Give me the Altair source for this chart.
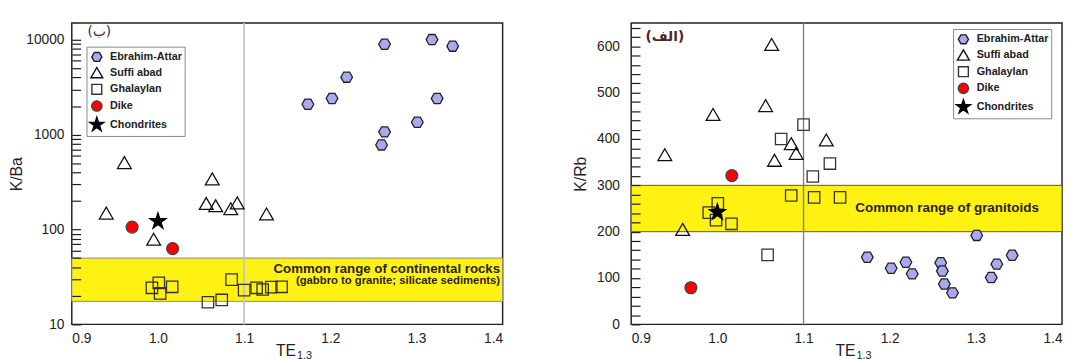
import altair as alt
import pandas as pd

# ---------------- data ----------------
groups = ["Ebrahim-Attar", "Suffi abad", "Ghalaylan", "Dike", "Chondrites"]

# left panel: K/Ba vs TE1,3
ba_ea_te = [1.174, 1.202, 1.219, 1.263, 1.318, 1.342, 1.324, 1.301, 1.263, 1.2595]
ba_ea_val = [2090, 2410, 4040, 8980, 10050, 8570, 2410, 1350, 1070, 780]
ba_sa_te = [0.961, 1.063, 0.940, 1.056, 1.067, 1.0845, 1.092, 1.126, 0.995]
ba_sa_val = [508, 342, 149, 188, 178, 166, 191, 146, 79]
ba_gh_te = [0.993, 1.001, 1.0025, 1.0165, 1.058, 1.074, 1.0855, 1.100, 1.1145, 1.1215, 1.1315, 1.1435]
ba_gh_val = [24.3, 27.4, 21.2, 24.9, 17.1, 18.1, 29.6, 23.0, 24.3, 23.3, 24.7, 24.9]
ba_dike_te = [0.970, 1.017]
ba_dike_val = [106, 63]
ba_ch_te = [1.0]
ba_ch_val = [122]

# right panel: K/Rb vs TE1,3
rb_ea_te = [1.174, 1.2017, 1.2188, 1.2261, 1.2592, 1.2611, 1.2634, 1.2729, 1.301, 1.3178, 1.3243, 1.3421]
rb_ea_val = [145, 121, 134, 109, 133, 115, 87, 68, 192, 101, 130, 149]
rb_sa_te = [1.063, 0.995, 1.056, 0.939, 1.0857, 1.0914, 1.0663, 1.1264, 0.9597]
rb_sa_val = [604, 453, 472, 366, 390, 369, 354, 398, 205]
rb_gh_te = [1.100, 1.074, 1.1306, 1.1108, 1.0857, 1.1123, 1.1424, 1.0005, 0.990, 0.9985, 1.0164, 1.0583]
rb_gh_val = [431, 400, 347, 319, 278, 274, 274, 261, 241, 225, 217, 150]
rb_dike_te = [1.0168, 0.9693]
rb_dike_val = [321, 79]
rb_ch_te = [1.0]
rb_ch_val = [242]

# ranges / bands / ticks
x_min, x_max = 0.9, 1.4
x_ticks = [0.9, 1.0, 1.1, 1.2, 1.3, 1.4]
x_line = [1.1]

ba_domain = [10, 15000]
ba_labels = [10, 100, 1000, 10000]
ba_minor = [m * d for d in [10, 100, 1000] for m in range(2, 10)]
ba_band = [17.5, 50]

rb_domain = [0, 650]
rb_labels = [0, 100, 200, 300, 400, 500, 600]
rb_minor = [v for v in range(20, 650, 20) if v % 100 != 0]
rb_band = [200, 300]

ba_text_lines = ["Common range of continental rocks", "(gabbro to granite; silicate sediments)"]
ba_text_x = [1.397, 1.397]
ba_text_y = [38.5, 28.6]
rb_text = ["Common range of granitoids"]
rb_text_x = [1.16]
rb_text_y = [250]

W, H = 439, 307
TICK = 9

# marker outlines (unit box -1..1, all drawn at one symbol size)
HEX = "M0.69,0L0.345,0.6L-0.345,0.6L-0.69,0L-0.345,-0.6L0.345,-0.6Z"
TRI = "M0,-0.7L0.81,0.7L-0.81,0.7Z"
SQR = "M-0.67,-0.67L0.67,-0.67L0.67,0.67L-0.67,0.67Z"
CIR = "M-0.7,0A0.7,0.7 0 1,0 0.7,0A0.7,0.7 0 1,0 -0.7,0Z"
STAR = ("M0,-1L0.2245,-0.309L0.951,-0.309L0.363,0.118L0.588,0.809L0,0.382"
        "L-0.588,0.809L-0.363,0.118L-0.951,-0.309L-0.2245,-0.309Z")
shapes = [HEX, TRI, SQR, CIR, STAR]
fills = ["#a9a9ef", "transparent", "transparent", "#ff0000", "#000000"]
strokes = ["#222222", "#111111", "#333333", "#444444", "#000000"]


def make_df(parts):
    rows = []
    for g, xs, ys in parts:
        for a, b in zip(xs, ys):
            rows.append({"group": g, "te": a, "val": b})
    return pd.DataFrame(rows)


def panel(df, yscale, yaxis, band, band_stroke, vline_color, vline_w,
          texts, legend_xy, plabel, plabel_xy, plabel_weight):
    xscale = alt.Scale(domain=[x_min, x_max], nice=False, zero=False)
    xaxis = alt.Axis(values=x_ticks, format=".1f", labelFlush=True, ticks=False,
                     tickSize=0, domain=False, grid=False, title=None, labelPadding=7)

    def X(f):
        return alt.X(f, scale=xscale, axis=xaxis)

    def Y(f):
        return alt.Y(f, scale=yscale, axis=yaxis)

    band_l = alt.Chart(pd.DataFrame({"val": [band[0]], "hi": [band[1]]})).mark_rect(
        fill="#fff212", stroke=band_stroke, strokeWidth=1
    ).encode(y=Y("val:Q"), y2="hi:Q", x=alt.value(0), x2=alt.value(W))

    txt_layers = []
    for (lines, xs, ys, align, sizes_) in texts:
        for t, a, b, fs in zip(lines, xs, ys, sizes_):
            txt_layers.append(
                alt.Chart(pd.DataFrame({"t": [t], "te": [a], "val": [b]})).mark_text(
                    align=align, baseline="middle", fontWeight="bold", fontSize=fs,
                    font="Liberation Sans", color="#2a2218"
                ).encode(x=X("te:Q"), y=Y("val:Q"), text="t:N")
            )

    vline = alt.Chart(pd.DataFrame({"te": x_line})).mark_rule(
        color=vline_color, strokeWidth=vline_w
    ).encode(x=X("te:Q"), y=alt.value(0), y2=alt.value(H))

    leg = alt.Legend(title=None, orient="none", legendX=legend_xy[0], legendY=legend_xy[1])
    pts = alt.Chart(df).mark_point(opacity=1, strokeWidth=1.3, size=300).encode(
        x=X("te:Q"),
        y=Y("val:Q"),
        shape=alt.Shape("group:N", scale=alt.Scale(domain=groups, range=shapes), legend=leg),
        fill=alt.Fill("group:N", scale=alt.Scale(domain=groups, range=fills), legend=leg),
        stroke=alt.Stroke("group:N", scale=alt.Scale(domain=groups, range=strokes), legend=leg),
    )

    lab = alt.Chart(pd.DataFrame({"t": [plabel], "te": [plabel_xy[0]], "val": [plabel_xy[1]]})).mark_text(
        font="DejaVu Sans", fontSize=14, fontWeight=plabel_weight, color="#4a2828",
        align="center", baseline="middle"
    ).encode(x=X("te:Q"), y=Y("val:Q"), text="t:N")

    te = alt.Chart(pd.DataFrame({"t": ["TE"]})).mark_text(
        font="Liberation Sans", fontSize=16, align="right", baseline="alphabetic", color="#222"
    ).encode(x=alt.value(W / 2 + 9), y=alt.value(H + 32), text="t:N")
    sub = alt.Chart(pd.DataFrame({"t": ["1,3"]})).mark_text(
        font="Liberation Sans", fontSize=11, align="left", baseline="alphabetic", color="#222"
    ).encode(x=alt.value(W / 2 + 10), y=alt.value(H + 35), text="t:N")

    return alt.layer(band_l, *txt_layers, vline, pts, lab, te, sub).properties(
        width=W, height=H)


df_ba = make_df([(groups[0], ba_ea_te, ba_ea_val), (groups[1], ba_sa_te, ba_sa_val),
                 (groups[2], ba_gh_te, ba_gh_val), (groups[3], ba_dike_te, ba_dike_val),
                 (groups[4], ba_ch_te, ba_ch_val)])
df_rb = make_df([(groups[0], rb_ea_te, rb_ea_val), (groups[1], rb_sa_te, rb_sa_val),
                 (groups[2], rb_gh_te, rb_gh_val), (groups[3], rb_dike_te, rb_dike_val),
                 (groups[4], rb_ch_te, rb_ch_val)])

ba_scale = alt.Scale(type="log", domain=ba_domain, nice=False)
rb_scale = alt.Scale(domain=rb_domain, nice=False, zero=False)

# the y axes sit just inside the frame so that their ticks point inward
ba_axis = alt.Axis(values=ba_labels + ba_minor, format="d",
                   labelExpr="indexof([10, 100, 1000, 10000], datum.value) >= 0 ? datum.label : ''",
                   labelOverlap=False, ticks=True, tickSize=TICK, offset=-TICK,
                   tickColor="#1a1a1a", tickWidth=1.2, zindex=1, domain=False,
                   grid=False, title="K/Ba", labelPadding=8, titlePadding=1, titleFontSize=16)
rb_axis = alt.Axis(values=rb_labels + rb_minor, format="d",
                   labelExpr="datum.value % 100 === 0 ? datum.label : ''",
                   labelOverlap=False, ticks=True, tickSize=TICK, offset=-TICK,
                   tickColor="#1a1a1a", tickWidth=1.2, zindex=1, domain=False,
                   grid=False, title="K/Rb", labelPadding=12, titlePadding=8, titleFontSize=16)

left = panel(df_ba, ba_scale, ba_axis, ba_band, "#8a8a8a", "#c4c4c4", 1.8,
             [(ba_text_lines, ba_text_x, ba_text_y, "right", [13.5, 11.5])],
             (15, 24), "(ب)", (0.932, 12200), "normal")
right = panel(df_rb, rb_scale, rb_axis, rb_band, "#555555", "#808080", 1.4,
              [(rb_text, rb_text_x, rb_text_y, "left", [13.7])],
              (328, 6), "(الف)", (0.939, 620), "bold")

chart = alt.hconcat(left, right, spacing=68).resolve_scale(
    shape="independent", fill="independent", stroke="independent"
).resolve_legend(
    shape="independent", fill="independent", stroke="independent"
).properties(
    padding={"left": 0, "top": 8, "right": 0, "bottom": 0}
).configure_view(
    stroke="#222222", strokeWidth=1.5
).configure_axis(
    labelFont="Liberation Sans", labelFontSize=14, labelColor="#222222",
    titleFont="Liberation Sans", titleColor="#222222", titleFontWeight="normal"
).configure_legend(
    labelFont="Liberation Sans", labelFontSize=11, labelFontWeight="bold", labelColor="#222222",
    symbolSize=225, symbolStrokeWidth=1.4, strokeColor="#888888", fillColor="#ffffff",
    padding=2, rowPadding=0, labelOffset=5, cornerRadius=0, symbolOpacity=1
)

chart.save("out.html", embed_options={"renderer": "svg", "actions": False})
